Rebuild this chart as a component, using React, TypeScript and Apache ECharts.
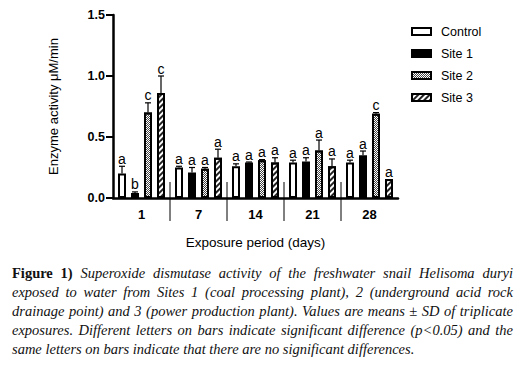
import React, { useEffect, useRef } from "react";
import * as echarts from "echarts";

const days = ["1", "7", "14", "21", "28"];
const seriesNames = ["Control", "Site 1", "Site 2", "Site 3"];
const controlMean = [0.2, 0.25, 0.26, 0.29, 0.29];
const site1Mean = [0.04, 0.21, 0.29, 0.3, 0.35];
const site2Mean = [0.7, 0.24, 0.31, 0.39, 0.69];
const site3Mean = [0.86, 0.33, 0.29, 0.26, 0.155];
const controlSD = [0.06, 0.01, 0.02, 0.02, 0.02];
const site1SD = [0.01, 0.04, 0.005, 0.03, 0.035];
const site2SD = [0.08, 0.01, 0.005, 0.085, 0.01];
const site3SD = [0.14, 0.07, 0.04, 0.06, 0];
const controlLetters = ["a", "a", "a", "a", "a"];
const site1Letters = ["b", "a", "a", "a", "a"];
const site2Letters = ["c", "a", "a", "a", "c"];
const site3Letters = ["c", "a", "a", "a", "a"];
const yTicks = [0, 0.5, 1.0, 1.5];

const captionLines = [
  "Superoxide dismutase activity of the freshwater snail Helisoma duryi",
  "exposed to water from Sites 1 (coal processing plant), 2 (underground acid rock",
  "drainage point) and 3 (power production plant). Values are means ± SD of triplicate",
  "exposures. Different letters on bars indicate significant difference (p<0.05) and the",
  "same letters on bars indicate that there are no significant differences.",
];

const SANS = '"Liberation Sans", Arial, sans-serif';
const BAR_W = 8;
const STEP = 13;

function errSeries(k: number, means: number[], sds: number[], letters: string[]) {
  return {
    type: "custom",
    name: seriesNames[k] + " SD",
    silent: true,
    z: 5,
    clip: false,
    data: means.map((m, i) => [i, m, sds[i]]),
    renderItem: (params: any, api: any) => {
      const i = api.value(0);
      const m = api.value(1);
      const s = api.value(2);
      const base = api.coord([i, m]);
      const top = api.coord([i, m + s]);
      const x = base[0] + (k - 1.5) * STEP;
      const children: any[] = [];
      if (s > 0) {
        children.push({
          type: "line",
          shape: { x1: x, y1: base[1], x2: x, y2: top[1] },
          style: { stroke: "#000", lineWidth: 1.2 },
        });
        children.push({
          type: "line",
          shape: { x1: x - 3, y1: top[1], x2: x + 3, y2: top[1] },
          style: { stroke: "#000", lineWidth: 1.2 },
        });
      }
      children.push({
        type: "text",
        x,
        y: top[1] - 0.5,
        style: {
          text: letters[params.dataIndex],
          fill: "#000",
          fontSize: 14,
          fontFamily: SANS,
          align: "center",
          textAlign: "center",
          verticalAlign: "bottom",
          textVerticalAlign: "bottom",
        },
      });
      return { type: "group", children };
    },
  };
}

export default function App() {
  const ref = useRef<HTMLDivElement>(null);
  useEffect(() => {
    if (!ref.current) return;
    const chart = echarts.init(ref.current, undefined, { renderer: "svg" });
    const bordered = { borderColor: "#000", borderWidth: 2 };
    chart.setOption({
      animation: false,
      grid: { left: 113, top: 15, width: 285, height: 183 },
      legend: {
        data: seriesNames,
        orient: "vertical",
        left: 406,
        top: 20,
        itemWidth: 19,
        itemHeight: 7,
        itemGap: 9,
        icon: "rect",
        selectedMode: false,
        textStyle: { fontSize: 12.5, color: "#000", fontFamily: SANS, padding: [0, 0, 0, 5] },
      },
      xAxis: {
        type: "category",
        data: days,
        name: "Exposure period (days)",
        nameLocation: "middle",
        nameGap: 37,
        nameTextStyle: { fontSize: 13.5, color: "#000", fontFamily: SANS },
        axisLine: { lineStyle: { color: "#000", width: 2.5 } },
        axisTick: { alignWithLabel: true, length: 7, lineStyle: { width: 3, color: "#000" } },
        axisLabel: { fontWeight: "bold", fontSize: 13, color: "#000", margin: 10, fontFamily: SANS },
      },
      yAxis: {
        type: "value",
        min: yTicks[0],
        max: yTicks[yTicks.length - 1],
        interval: yTicks[1] - yTicks[0],
        name: "Enzyme activity μM/min",
        nameLocation: "middle",
        nameGap: 53,
        nameTextStyle: { fontSize: 13, color: "#000", fontFamily: SANS },
        axisLine: { show: true, lineStyle: { color: "#000", width: 2.5 } },
        axisTick: { show: true, length: 7, lineStyle: { width: 2, color: "#000" } },
        axisLabel: {
          fontWeight: "bold",
          fontSize: 12.5,
          color: "#000",
          margin: 8,
          fontFamily: SANS,
          formatter: (v: number) => v.toFixed(1),
        },
        splitLine: { show: false },
      },
      series: [
        {
          type: "bar",
          name: seriesNames[0],
          data: controlMean,
          barWidth: BAR_W,
          barGap: "62.5%",
          itemStyle: { color: "#fff", ...bordered },
        },
        {
          type: "bar",
          name: seriesNames[1],
          data: site1Mean,
          barWidth: BAR_W,
          barGap: "62.5%",
          itemStyle: { color: "#000", ...bordered },
        },
        {
          type: "bar",
          name: seriesNames[2],
          data: site2Mean,
          barWidth: BAR_W,
          barGap: "62.5%",
          itemStyle: {
            color: "#fff",
            ...bordered,
            decal: {
              symbol: "rect",
              symbolSize: 1,
              dashArrayX: [[1, 1], [0, 1, 1, 0]],
              dashArrayY: [1, 0],
              color: "#444",
            },
          },
        },
        {
          type: "bar",
          name: seriesNames[3],
          data: site3Mean,
          barWidth: BAR_W,
          barGap: "62.5%",
          itemStyle: {
            color: "#fff",
            ...bordered,
            decal: {
              symbol: "rect",
              symbolSize: 1,
              dashArrayX: [1, 0],
              dashArrayY: [2, 2],
              rotation: -Math.PI / 4,
              color: "#222",
            },
          },
        },
        errSeries(0, controlMean, controlSD, controlLetters),
        errSeries(1, site1Mean, site1SD, site1Letters),
        errSeries(2, site2Mean, site2SD, site2Letters),
        errSeries(3, site3Mean, site3SD, site3Letters),
        {
          type: "custom",
          silent: true,
          clip: false,
          z: 1,
          data: days.slice(1).map((d, i) => [i, 0]),
          renderItem: (params: any, api: any) => {
            const i = api.value(0);
            const c = api.coord([i, 0]);
            const w = api.size([1, 0])[0];
            const x = c[0] + w / 2;
            return {
              type: "line",
              shape: { x1: x, y1: c[1] - 16, x2: x, y2: c[1] + 23 },
              style: { stroke: "#000", lineWidth: 1 },
            };
          },
        },
      ],
    });
    return () => chart.dispose();
  }, []);

  const lineStyle: React.CSSProperties = {
    height: 19,
    lineHeight: "19px",
    textAlign: "justify",
    textAlignLast: "justify",
  };
  return (
    <div style={{ position: "absolute", left: 0, top: 0, width: 529, height: 368, background: "#fff" }}>
      <div ref={ref} style={{ position: "absolute", left: 0, top: 0, width: 529, height: 260 }} />
      <div
        style={{
          position: "absolute",
          left: 12,
          top: 264,
          width: 501,
          fontFamily: '"Liberation Serif", "Times New Roman", serif',
          fontSize: 14.5,
          fontStyle: "italic",
          color: "#111",
        }}
      >
        {captionLines.map((t, i) => (
          <div key={i} style={i === captionLines.length - 1 ? { ...lineStyle, textAlignLast: "left" } : lineStyle}>
            {i === 0 ? (
              <>
                <b style={{ fontStyle: "normal" }}>Figure 1)</b> {t}
              </>
            ) : (
              t
            )}
          </div>
        ))}
      </div>
    </div>
  );
}
